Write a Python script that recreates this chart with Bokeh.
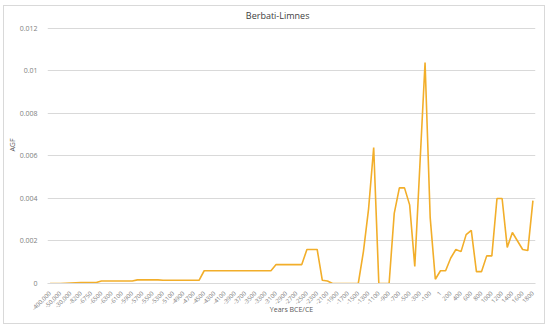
from math import pi
from bokeh.plotting import figure
from bokeh.models import FixedTicker, Range1d, ColumnDataSource, Label
from bokeh.embed import file_html
from bokeh.resources import INLINE

# Category labels (years BCE/CE)
years = [
    "-400,000", "-100,000", "-50,000", "-40,000", "-30,000", "-10,000", "-8200", "-7000", "-6750", "-6600",
    "-6500", "-6400", "-6300", "-6200", "-6100", "-6000", "-5900", "-5800", "-5700", "-5600",
    "-5500", "-5400", "-5300", "-5200", "-5100", "-5000", "-4900", "-4800", "-4700", "-4600",
    "-4500", "-4400", "-4300", "-4200", "-4100", "-4000", "-3900", "-3800", "-3700", "-3600",
    "-3500", "-3400", "-3300", "-3200", "-3100", "-3000", "-2900", "-2800", "-2700", "-2600",
    "-2500", "-2400", "-2300", "-2200", "-2100", "-2000", "-1900", "-1800", "-1700", "-1600",
    "-1500", "-1400", "-1300", "-1200", "-1100", "-1000", "-900", "-800", "-700", "-600",
    "-500", "-400", "-300", "-200", "-100", "-50", "1", "100", "200", "300",
    "400", "500", "600", "700", "800", "900", "1000", "1100", "1200", "1300",
    "1400", "1500", "1600", "1700", "1800",
]

# AGF values
agf = [
    0, 0, 0, 0.00001, 0.00002, 0.00003, 0.00004, 0.00004, 0.00005, 0.00005,
    0.00012, 0.00012, 0.00012, 0.00012, 0.00012, 0.00012, 0.00012, 0.00017, 0.00017, 0.00017,
    0.00017, 0.00017, 0.00015, 0.00015, 0.00015, 0.00015, 0.00015, 0.00015, 0.00015, 0.00015,
    0.0006, 0.0006, 0.0006, 0.0006, 0.0006, 0.0006, 0.0006, 0.0006, 0.0006, 0.0006,
    0.0006, 0.0006, 0.0006, 0.0006, 0.00089, 0.00089, 0.00089, 0.00089, 0.00089, 0.00089,
    0.0016, 0.0016, 0.0016, 0.00015, 0.00012, 0, 0, 0, 0, 0,
    0, 0.0015, 0.0035, 0.0064, 0, 0, 0, 0.0033, 0.0045, 0.0045,
    0.0037, 0.0008, 0.0056, 0.0104, 0.0031, 0.0002, 0.0006, 0.0006, 0.0012, 0.0016,
    0.0015, 0.0023, 0.0025, 0.00056, 0.00056, 0.0013, 0.0013, 0.004, 0.004, 0.0017,
    0.0024, 0.002, 0.0016, 0.00155, 0.0039,
]

y_ticks = [0, 0.002, 0.004, 0.006, 0.008, 0.010, 0.012]
y_tick_labels = ["0", "0.002", "0.004", "0.006", "0.008", "0.01", "0.012"]

FONT = "Open Sans"
pos = list(range(len(years)))
src = ColumnDataSource(dict(x=pos, y=agf, year=years))

# the frame reaches the top of the chart so the title can sit inside it
p = figure(width=542, height=319, output_backend="svg", toolbar_location=None,
           title=None,
           x_range=Range1d(-0.5, len(years) - 0.5), y_range=Range1d(0, 0.013035),
           min_border_left=36, min_border_right=11, min_border_top=0, min_border_bottom=42)

p.line("x", "y", source=src, line_color="#F2AE2A", line_width=1.6)

# x axis
x_ticks = pos[::2]
p.xaxis.ticker = FixedTicker(ticks=x_ticks)
p.xaxis.major_label_overrides = {i: years[i] for i in x_ticks}
p.xaxis.major_label_orientation = pi / 4
p.xaxis.major_label_text_font = FONT
p.xaxis.major_label_text_font_size = "6px"
p.xaxis.major_label_text_color = "#808080"
p.xaxis.major_label_standoff = 3
p.xaxis.axis_line_color = "#d9d9d9"
p.xaxis.major_tick_line_color = None
p.xaxis.minor_tick_line_color = None
p.xaxis.axis_label = "Years BCE/CE"
p.xaxis.axis_label_text_font = FONT
p.xaxis.axis_label_text_font_size = "7px"
p.xaxis.axis_label_text_font_style = "normal"
p.xaxis.axis_label_text_color = "#595959"
p.xaxis.axis_label_standoff = -10

# y axis
p.yaxis.ticker = FixedTicker(ticks=y_ticks)
p.yaxis.major_label_overrides = {t: l for t, l in zip(y_ticks, y_tick_labels)}
p.yaxis.major_label_text_font = FONT
p.yaxis.major_label_text_font_size = "7px"
p.yaxis.major_label_text_color = "#808080"
p.yaxis.major_label_standoff = 4
p.yaxis.axis_line_color = None
p.yaxis.major_tick_line_color = None
p.yaxis.minor_tick_line_color = None
p.yaxis.axis_label = "AGF"
p.yaxis.axis_label_text_font = FONT
p.yaxis.axis_label_text_font_size = "7px"
p.yaxis.axis_label_text_font_style = "normal"
p.yaxis.axis_label_text_color = "#595959"
p.yaxis.axis_label_standoff = 0

# chart title, inside the top of the frame
p.add_layout(Label(x=44.3, y=0.01261, text="Berbati-Limnes", text_font=FONT,
                   text_font_size="9px", text_color="#404040",
                   text_align="center", text_baseline="middle"))

p.xgrid.grid_line_color = None
p.ygrid.grid_line_color = "#d9d9d9"
p.ygrid.grid_line_width = 1
p.outline_line_color = None
p.styles = {"border": "1px solid #d9d9d9", "margin": "5px 0 0 3px"}

open("out.html", "w").write(file_html(p, INLINE))
